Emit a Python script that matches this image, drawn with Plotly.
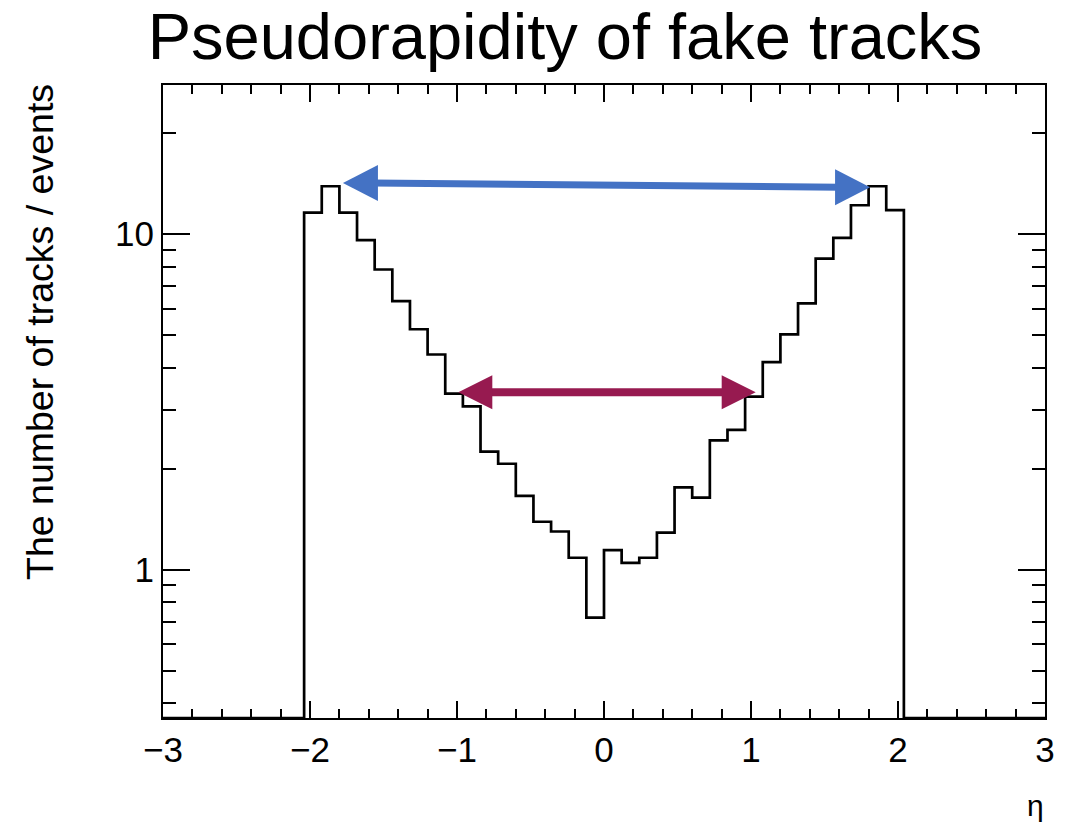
import numpy as np
import plotly.graph_objects as go

# ---- data ----
bin_low, bin_high, n_bins = -2.04, 2.04, 34
counts = [11.6, 13.9, 11.6, 9.6, 7.85, 6.32, 5.21, 4.38, 3.35, 3.07,
          2.25, 2.07, 1.66, 1.39, 1.30, 1.086, 0.72, 1.145, 1.049, 1.086,
          1.29, 1.76, 1.64, 2.43, 2.61, 3.28, 4.16, 5.03, 6.22, 8.46,
          9.75, 12.2, 13.9, 11.8]
x_tickvals = [-3, -2, -1, 0, 1, 2, 3]
y_tickvals = [1, 10]
y_ticktext = ["1", "10"]
title_text = "Pseudorapidity of fake tracks"
ytitle_text = "The number of tracks / events"
xtitle_text = "η"

# arrows: (x_left, y_left, x_right, y_right)
blue_arrow = (-1.776, 14.2, 1.81, 13.8)
purple_arrow = (-0.991, 3.38, 1.032, 3.38)

# ---- layout geometry ----
W, H = 1071, 823
ml, mr, mt, mb = 163, 26, 85, 105
pw, ph = W - ml - mr, H - mt - mb
xr = [-3, 3]
yr = [-0.4418, 1.4447]
px_per_x = pw / (xr[1] - xr[0])

edges = np.round(np.linspace(bin_low, bin_high, n_bins + 1), 4)
floor_val = 10 ** yr[0]
xs = [xr[0]] + list(edges) + [xr[1]]
ys = [floor_val] + counts + [floor_val, floor_val]

fig = go.Figure()
fig.add_trace(go.Scatter(x=xs, y=ys, mode="lines", line=dict(shape="hv", color="black", width=2.7),
                         hoverinfo="skip", showlegend=False))

font_family = "Liberation Sans, Arial, Helvetica, sans-serif"

def add_arrow(fig, a, color, shaft_w, head_len, head_half):
    xl, yl, xrr, yrr = a
    off = head_len * 0.85 / px_per_x
    fig.add_shape(type="line", xref="x", yref="y",
                  x0=xl + off, y0=yl, x1=xrr - off, y1=yrr,
                  line=dict(color=color, width=shaft_w), layer="above")
    fig.add_shape(type="path", xref="x", yref="y", xsizemode="pixel", ysizemode="pixel",
                  xanchor=xl, yanchor=yl,
                  path=f"M0,0 L{head_len},{head_half} L{head_len},{-head_half} Z",
                  fillcolor=color, line=dict(width=0), layer="above")
    fig.add_shape(type="path", xref="x", yref="y", xsizemode="pixel", ysizemode="pixel",
                  xanchor=xrr, yanchor=yrr,
                  path=f"M0,0 L{-head_len},{head_half} L{-head_len},{-head_half} Z",
                  fillcolor=color, line=dict(width=0), layer="above")

add_arrow(fig, blue_arrow, "#4472C4", 7, 35, 18)
add_arrow(fig, purple_arrow, "#971A50", 8, 34, 17)

x_minor = [v for v in np.round(np.arange(-3, 3.001, 0.2), 2) if v not in x_tickvals]
y_minor = [0.4, 0.5, 0.6, 0.7, 0.8, 0.9, 2, 3, 4, 5, 6, 7, 8, 9, 20]

fig.update_layout(
    width=W, height=H,
    margin=dict(l=ml, r=mr, t=mt, b=mb),
    paper_bgcolor="white", plot_bgcolor="white",
    font=dict(family=font_family, color="black"),
    title=dict(text=title_text, font=dict(size=65, family=font_family, color="black"),
               xref="container", yref="container", x=565 / W, xanchor="center",
               y=1 - 36 / H, yanchor="middle"),
    xaxis=dict(range=xr, showgrid=False, zeroline=False, showline=True, linecolor="black",
               linewidth=2, mirror="allticks", ticks="inside", ticklen=17, tickwidth=1.5,
               tickcolor="black", tickmode="array", tickvals=x_tickvals,
               tickfont=dict(size=35, family=font_family),
               minor=dict(tickmode="array", tickvals=x_minor, ticks="inside", ticklen=9,
                          tickwidth=1.5, tickcolor="black", showgrid=False)),
    yaxis=dict(type="log", range=yr, showgrid=False, zeroline=False, showline=True,
               linecolor="black", linewidth=2, mirror="allticks", ticks="inside",
               ticklen=27, tickwidth=1.5, tickcolor="black", tickmode="array",
               tickvals=y_tickvals, ticktext=y_ticktext,
               tickfont=dict(size=35, family=font_family),
               minor=dict(tickmode="array", tickvals=y_minor, ticks="inside", ticklen=13,
                          tickwidth=1.5, tickcolor="black", showgrid=False)),
)

fig.add_annotation(text=ytitle_text, xref="paper", yref="paper",
                   x=(40 - ml) / pw, y=(H - mb - 332) / ph, textangle=-90,
                   showarrow=False, font=dict(size=37.5, family=font_family, color="black"),
                   xanchor="center", yanchor="middle")
fig.add_annotation(text=xtitle_text, xref="paper", yref="paper",
                   x=(1035 - ml) / pw, y=(H - mb - 805) / ph,
                   showarrow=False, font=dict(size=30, family=font_family, color="black"),
                   xanchor="center", yanchor="middle")

fig.write_html("out.html")
